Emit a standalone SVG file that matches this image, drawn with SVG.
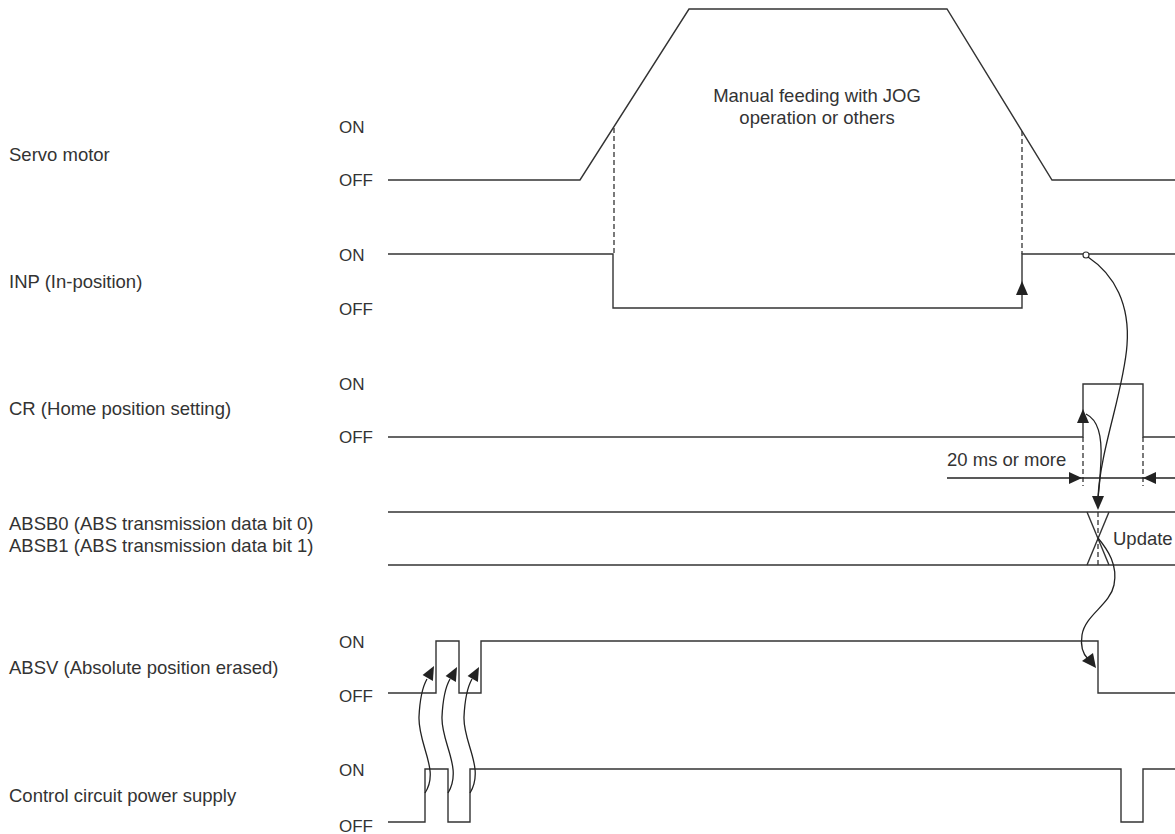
<svg xmlns="http://www.w3.org/2000/svg" width="1175" height="834" viewBox="0 0 1175 834">
<style>
text{font-family:"Liberation Sans",Arial,sans-serif;fill:#333;}
.lbl{font-size:18.5px;}
.st{font-size:17px;}
.w{fill:none;stroke:#333;stroke-width:1.4;}
.d{fill:none;stroke:#333;stroke-width:1.3;stroke-dasharray:5,3;}
.c{fill:none;stroke:#222;stroke-width:1.3;}
.ah{fill:#222;stroke:none;}
</style>
<rect width="1175" height="834" fill="#fff"/>
<g id="servo">
<text class="lbl" x="9" y="161">Servo motor</text>
<text class="st" x="339" y="133">ON</text>
<text class="st" x="339" y="186">OFF</text>
<polyline class="w" points="388,180 580,180 689,9 947,9 1052,180 1175,180"/>
<text class="lbl" x="817" y="102" text-anchor="middle">Manual feeding with JOG</text>
<text class="lbl" x="817" y="124" text-anchor="middle">operation or others</text>
</g>
<g id="inp">
<text class="lbl" x="9" y="288">INP (In-position)</text>
<text class="st" x="339" y="261">ON</text>
<text class="st" x="339" y="315">OFF</text>
<polyline class="w" points="388,254 613,254 613,308 1022,308 1022,254 1175,254"/>
<circle cx="1086" cy="255" r="3" fill="#fff" stroke="#333" stroke-width="1.2"/>
</g>
<g id="cr">
<text class="lbl" x="9" y="415">CR (Home position setting)</text>
<text class="st" x="339" y="390">ON</text>
<text class="st" x="339" y="443">OFF</text>
<polyline class="w" points="388,437 1083,437 1083,384 1143,384 1143,437 1175,437"/>
<text class="lbl" x="947" y="466">20 ms or more</text>
</g>
<g id="absb">
<text class="lbl" x="9" y="530">ABSB0 (ABS transmission data bit 0)</text>
<text class="lbl" x="9" y="552">ABSB1 (ABS transmission data bit 1)</text>
<line class="w" x1="388" y1="512" x2="1175" y2="512"/>
<line class="w" x1="388" y1="565" x2="1175" y2="565"/>
<line class="w" x1="1087" y1="512" x2="1109" y2="565"/>
<line class="w" x1="1109" y1="512" x2="1087" y2="565"/>
<text class="lbl" x="1113" y="545">Update</text>
</g>
<g id="absv">
<text class="lbl" x="9" y="674">ABSV (Absolute position erased)</text>
<text class="st" x="339" y="648">ON</text>
<text class="st" x="339" y="702">OFF</text>
<polyline class="w" points="388,693 436,693 436,641 459,641 459,693 481,693 481,641 1098,641 1098,693 1175,693"/>
</g>
<g id="control">
<text class="lbl" x="9" y="802">Control circuit power supply</text>
<text class="st" x="339" y="776">ON</text>
<text class="st" x="339" y="832">OFF</text>
<polyline class="w" points="388,822 425,822 425,769 448,769 448,822 470,822 470,769 1121,769 1121,822 1143,822 1143,769 1175,769"/>
</g>
<g id="connectors">
<line class="d" x1="614" y1="128" x2="614" y2="254"/>
<line class="d" x1="1022" y1="131" x2="1022" y2="254"/>
<polygon class="ah" points="1016,295 1028,295 1022,281"/>
<line class="d" x1="1083" y1="437" x2="1083" y2="486"/>
<line class="d" x1="1143" y1="437" x2="1143" y2="486"/>
<line class="c" x1="947" y1="478" x2="1175" y2="478"/>
<polygon class="ah" points="1069,472 1069,484 1082,478"/>
<polygon class="ah" points="1156,472 1156,484 1143,478"/>
<polygon class="ah" points="1077,423 1089,423 1083,409"/>
<path class="c" d="M1088,257 C1115,275 1130,305 1127,345 C1124,390 1100,450 1098,498"/>
<path class="c" d="M1086,414 C1098,420 1102,435 1101,460 C1100,480 1099,490 1098,498"/>
<polygon class="ah" points="1092,496 1104,496 1098,510"/>
<line class="d" x1="1098" y1="512" x2="1098" y2="565"/>
<path class="c" d="M1098,538 C1108,550 1118,565 1114,585 C1110,605 1085,615 1082,635 C1080,648 1084,655 1088,659"/>
<polygon class="ah" points="1082,661 1093,653 1096,668"/>
<path class="c" d="M425,793 C440,770 418,745 419,717 C420,695 423,686 427,679"/>
<polygon class="ah" points="434,666 422.6,675 432.9,681"/>
<path class="c" d="M448,793 C463,768 441,743 442,717 C443,695 446,686 450,679"/>
<polygon class="ah" points="457,667 445.6,676 455.9,682"/>
<path class="c" d="M470,793 C485,768 463,743 464,717 C465,695 468,686 472,679"/>
<polygon class="ah" points="479,667 467.6,676 477.9,682"/>
</g>
</svg>
